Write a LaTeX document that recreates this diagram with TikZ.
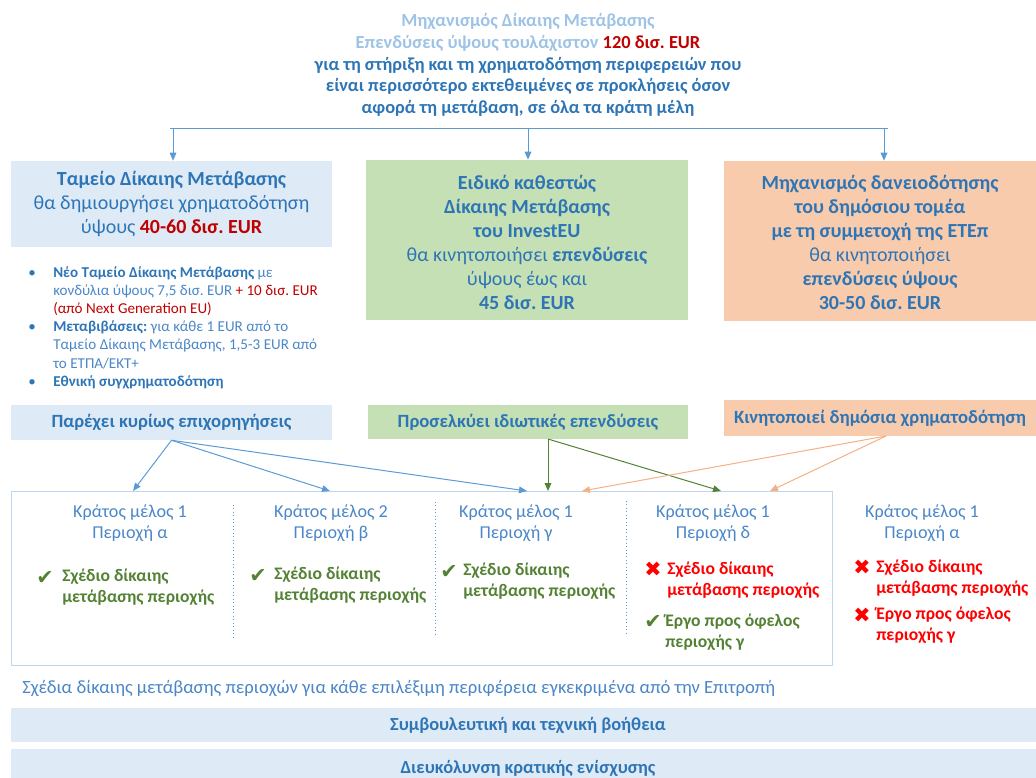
\documentclass[tikz,border=0pt]{standalone}
\usepackage{fontspec}
\setmainfont{Carlito}
\newfontfamily\symfont{DejaVu Sans}
\usetikzlibrary{arrows.meta}
\frenchspacing
\definecolor{dblue}{HTML}{2E75B6}
\definecolor{mblue}{HTML}{4A86C8}
\definecolor{lblue}{HTML}{9DC3E6}
\definecolor{dred}{HTML}{C00000}
\definecolor{bred}{HTML}{FF0000}
\definecolor{dgreen}{HTML}{548235}
\definecolor{fblue}{HTML}{DEEBF7}
\definecolor{fgreen}{HTML}{C5E0B4}
\definecolor{forange}{HTML}{F8CBAD}
\definecolor{aorange}{HTML}{F4B183}
\definecolor{ablue}{HTML}{5B9BD5}
\definecolor{bborder}{HTML}{BDD7EE}
\newcommand\fsz[2]{\fontsize{#1}{#2}\selectfont}
\newcommand\okmark{{\symfont\char"2714}}
\newcommand\nomark{{\symfont\char"2716}}
\begin{document}
\frenchspacing
\begin{tikzpicture}[x=0.75pt,y=-0.75pt,
  txt/.style={inner sep=0pt, align=center},
  fillbox/.style={draw=none, inner sep=0pt, align=center},
  arr/.style={-{Triangle[length=6pt,width=5pt]}, line width=0.75pt},
  sep/.style={dotted, ablue, line width=0.6pt},
  hdr/.style={txt, font=\fsz{13.6}{15.75}, text=mblue},
  okm/.style={inner sep=0pt, text=dgreen, font=\fsz{15.5}{16}},
  nom/.style={inner sep=0pt, text=bred, font=\fsz{15.5}{16}},
  item/.style={inner sep=0pt, align=left, anchor=west, font=\bfseries\fsz{13.2}{15.9}}]
\useasboundingbox (0,0) rectangle (1036,778);

% title
\node[txt, font=\bfseries\fsz{13.8}{16.2}, text=dblue] (title) at (528,65)
  {\textcolor{lblue}{Μηχανισμός Δίκαιης Μετάβασης}\\
   \textcolor{lblue}{Επενδύσεις ύψους τουλάχιστον} \textcolor{dred}{120 δισ. EUR}\\
   για τη στήριξη και τη χρηματοδότηση περιφερειών που\\
   είναι περισσότερο εκτεθειμένες σε προκλήσεις όσον\\
   αφορά τη μετάβαση, σε όλα τα κράτη μέλη};

\coordinate (hl) at (170,128);
\coordinate (hr) at (888,128);
\coordinate (a1) at (173,128);
\coordinate (a2) at (528,128);
\coordinate (a3) at (884,128);
\draw[ablue, line width=0.75pt] (hl) -- (hr);

% three main boxes
\node[fillbox, fill=fblue, minimum width=240.75pt, minimum height=64.5pt] (L) at (171.5,204) {};
\node[txt, font=\fsz{15}{18.2}, text=dblue] (Lt) at (171.5,204)
  {\textbf{Ταμείο Δίκαιης Μετάβασης}\\θα δημιουργήσει χρηματοδότηση\\ύψους \textcolor{dred}{\textbf{40-60 δισ. EUR}}};

\node[fillbox, fill=fgreen, minimum width=241.5pt, minimum height=120pt] (M) at (527,240) {};
\node[txt, font=\fsz{15}{18}, text=dblue] (Mt) at (527,242)
  {\textbf{Ειδικό καθεστώς}\\\textbf{Δίκαιης Μετάβασης}\\\textbf{του InvestEU}\\θα κινητοποιήσει \textbf{επενδύσεις}\\ύψους έως και\\\textbf{45 δισ. EUR}};

\node[fillbox, fill=forange, minimum width=234pt, minimum height=120pt] (R) at (880,241) {};
\node[txt, font=\fsz{15}{18}, text=dblue] (Rt) at (880,242)
  {\textbf{Μηχανισμός δανειοδότησης}\\\textbf{του δημόσιου τομέα}\\\textbf{με τη συμμετοχή της ΕΤΕπ}\\θα κινητοποιήσει\\\textbf{επενδύσεις ύψους}\\\textbf{30-50 δισ. EUR}};

\draw[arr, ablue] (a1) -- (a1 |- L.north);
\draw[arr, ablue] (a2) -- (a2 |- M.north);
\draw[arr, ablue] (a3) -- (a3 |- R.north);

% bullets
\node[anchor=north west, inner sep=0pt, font=\fsz{11.3}{13.65}, text=mblue] (bul) at (28,264)
  {\begin{tabular}{@{}p{18.75pt}@{}l@{}}
   \textcolor{dblue}{•} & \textcolor{dblue}{\textbf{Νέο Ταμείο Δίκαιης Μετάβασης}} με\\
    & κονδύλια ύψους 7,5 δισ. EUR \textcolor{dred}{+ 10 δισ. EUR}\\
    & \textcolor{dred}{(από Next Generation EU)}\\
   \textcolor{dblue}{•} & \textcolor{dblue}{\textbf{Μεταβιβάσεις:}} για κάθε 1 EUR από το\\
    & Ταμείο Δίκαιης Μετάβασης, 1,5-3 EUR από\\
    & το ΕΤΠΑ/ΕΚΤ+\\
   \textcolor{dblue}{•} & \textcolor{dblue}{\textbf{Εθνική συγχρηματοδότηση}}
   \end{tabular}};

% label boxes
\node[fillbox, fill=fblue, minimum width=240.75pt, minimum height=26.25pt, font=\bfseries\fsz{14}{15}, text=dblue] (P1) at (171.5,422.5) {Παρέχει κυρίως επιχορηγήσεις};
\node[fillbox, fill=fgreen, minimum width=240pt, minimum height=25.5pt, font=\bfseries\fsz{14}{15}, text=dblue] (P2) at (528,422) {Προσελκύει ιδιωτικές επενδύσεις};
\node[fillbox, fill=forange, minimum width=234pt, minimum height=27pt, font=\bfseries\fsz{14}{15}, text=dblue] (P3) at (880,418) {Κινητοποιεί δημόσια χρηματοδότηση};

% regions box
\node[draw=bborder, line width=0.75pt, inner sep=0pt, minimum width=615.75pt, minimum height=130.5pt] (B) at (421.5,578) {};

\coordinate (g0) at (548,439);
\coordinate (o0) at (886,436);
\coordinate (tb1) at (133,491);
\coordinate (tb2) at (330,491);
\coordinate (tb3) at (527,491);
\coordinate (tg1) at (548,491);
\coordinate (tg2) at (721,491);
\coordinate (to1) at (582,491);
\coordinate (to2) at (770,491);
\draw[arr, ablue] (P1.south) -- (tb1);
\draw[arr, ablue] (P1.south) -- (tb2);
\draw[arr, ablue] (P1.south) -- (tb3);
\draw[arr, dgreen] (g0) -- (tg1);
\draw[arr, dgreen] (g0) -- (tg2);
\draw[arr, aorange] (o0) -- (to1);
\draw[arr, aorange] (o0) -- (to2);

\draw[sep] (233,505) -- (233,639);
\draw[sep] (435,502) -- (435,637);
\draw[sep] (626,501) -- (626,636);

% column headers
\node[hdr] (h1) at (130,523) {Κράτος μέλος 1\\Περιοχή α};
\node[hdr] (h2) at (331,523) {Κράτος μέλος 2\\Περιοχή β};
\node[hdr] (h3) at (516,523) {Κράτος μέλος 1\\Περιοχή γ};
\node[hdr] (h4) at (713,523) {Κράτος μέλος 1\\Περιοχή δ};
\node[hdr] (h5) at (922,523) {Κράτος μέλος 1\\Περιοχή α};

% items
\node[okm] (k1) at (45,578) {\okmark};
\node[item, text=dgreen] (i1) at (62,587) {Σχέδιο δίκαιης\\μετάβασης περιοχής};
\node[okm] (k2) at (258,576) {\okmark};
\node[item, text=dgreen] (i2) at (274,585.5) {Σχέδιο δίκαιης\\μετάβασης περιοχής};
\node[okm] (k3) at (449,572) {\okmark};
\node[item, text=dgreen] (i3) at (463,581.5) {Σχέδιο δίκαιης\\μετάβασης περιοχής};
\node[nom] (x4) at (653,569) {\nomark};
\node[item, text=bred] (i4) at (667,580.5) {Σχέδιο δίκαιης\\μετάβασης περιοχής};
\node[okm] (k4) at (653,622) {\okmark};
\node[item, text=dgreen] (j4) at (665,632.5) {Έργο προς όφελος\\περιοχής γ};
\node[nom] (x5) at (862,567) {\nomark};
\node[item, text=bred] (i5) at (876,578.5) {Σχέδιο δίκαιης\\μετάβασης περιοχής};
\node[nom] (y5) at (862,615) {\nomark};
\node[item, text=bred] (j5) at (876,625) {Έργο προς όφελος\\περιοχής γ};

% bottom
\node[anchor=west, inner sep=0pt, font=\fsz{14}{15}, text=mblue] (plans) at (22,689)
  {Σχέδια δίκαιης μετάβασης περιοχών για κάθε επιλέξιμη περιφέρεια εγκεκριμένα από την Επιτροπή};
\node[fillbox, fill=fblue, minimum width=768.75pt, minimum height=25.5pt] (S1) at (523.5,725) {};
\node[txt, font=\bfseries\fsz{13.8}{15}, text=dblue] (S1t) at (528,725) {Συμβουλευτική και τεχνική βοήθεια};
\node[fillbox, fill=fblue, minimum width=768.75pt, minimum height=21.75pt] (S2) at (523.5,763.5) {};
\node[txt, font=\bfseries\fsz{13.8}{15}, text=dblue] (S2t) at (528,768) {Διευκόλυνση κρατικής ενίσχυσης};
\end{tikzpicture}
\end{document}
